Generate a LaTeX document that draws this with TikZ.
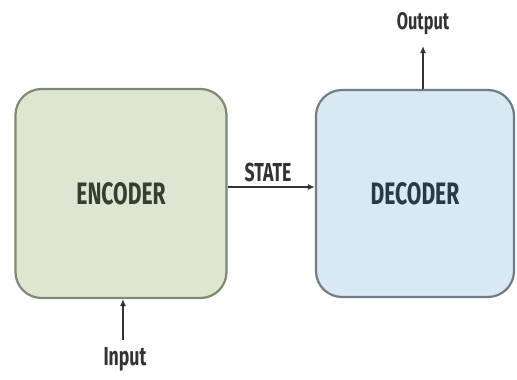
\documentclass[tikz,border=0pt]{standalone}
\usepackage{fontspec}
\newfontfamily\labelfont{Fira Sans}[FakeStretch=0.68]
\usetikzlibrary{arrows.meta}
\definecolor{encfill}{HTML}{DDE6D1}
\definecolor{encline}{HTML}{7D8A72}
\definecolor{enctext}{HTML}{34402F}
\definecolor{decfill}{HTML}{D9E9F3}
\definecolor{decline}{HTML}{6E7D86}
\definecolor{dectext}{HTML}{2A3A45}
\definecolor{arrowc}{HTML}{333333}
\tikzset{
  block/.style={rounded corners=26pt, line width=2.2pt, inner sep=0pt},
  blocktext/.style={font=\labelfont\bfseries\fontsize{31}{31}\selectfont},
  lbl/.style={text=arrowc, inner sep=0pt},
  flow/.style={draw=arrowc, line width=1.4pt, -{Latex[length=7pt,width=6pt]}}
}
\begin{document}
\begin{tikzpicture}[x=1pt,y=-1pt]
  \useasboundingbox (0,0) rectangle (517,380);
  % encoder and decoder blocks
  \node[block, draw=encline, fill=encfill, minimum width=211pt, minimum height=209pt] (enc) at (121,193.5) {};
  \node[blocktext, text=enctext] (enclbl) at (enc.center) {ENCODER};
  \node[block, draw=decline, fill=decfill, minimum width=198pt, minimum height=207pt] (dec) at (415,193.5) {};
  \node[blocktext, text=dectext] (declbl) at (dec.center) {DECODER};
  % input into the encoder
  \node[lbl, font=\labelfont\bfseries\fontsize{26}{26}\selectfont, anchor=north] (inlbl) at (125,347) {Input};
  \coordinate (intail) at (123,340);
  \draw[flow] (intail) -- (enc.south -| intail);
  % state passed from encoder to decoder
  \coordinate (stateline) at (0,187);
  \draw[flow] (enc.east |- stateline) -- (dec.west |- stateline);
  \node[lbl, font=\labelfont\bfseries\fontsize{26}{26}\selectfont, anchor=south] (state) at (268,182) {STATE};
  % output from the decoder
  \coordinate (outtop) at (423,46);
  \draw[flow] (dec.north -| outtop) -- (outtop);
  \node[lbl, font=\labelfont\bfseries\fontsize{24}{24}\selectfont, anchor=south] (outlbl) at (423,35) {Output};
\end{tikzpicture}
\end{document}
